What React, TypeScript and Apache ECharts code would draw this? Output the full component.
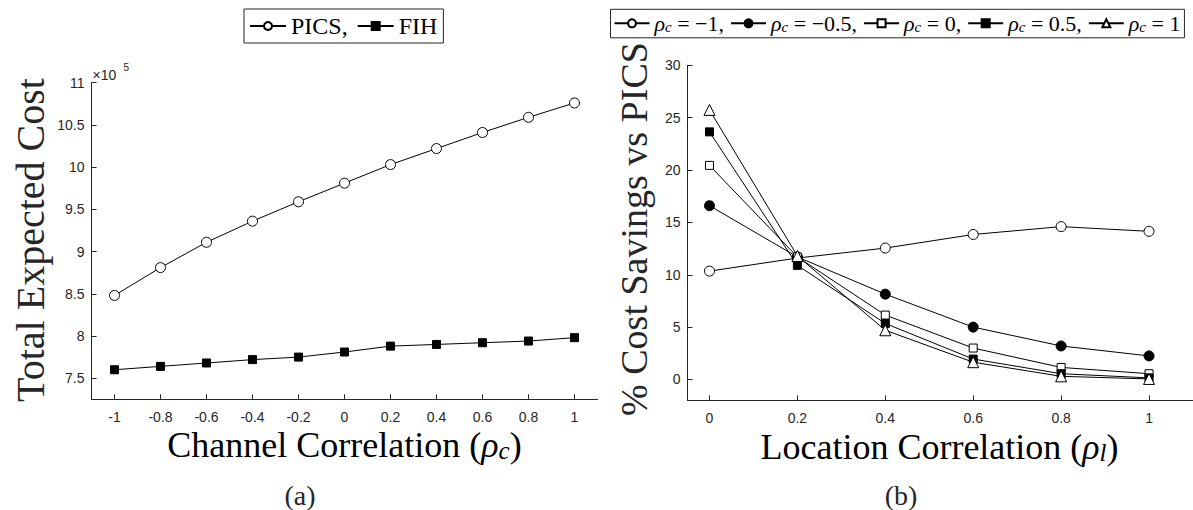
import React, { useEffect, useRef } from "react";
import * as echarts from "echarts";

// ---------- data ----------
const channelCorr = [-1, -0.8, -0.6, -0.4, -0.2, 0, 0.2, 0.4, 0.6, 0.8, 1];
const picsCost = [8.48, 8.81, 9.11, 9.36, 9.59, 9.81, 10.03, 10.22, 10.41, 10.59, 10.76];
const fihCost = [7.6, 7.64, 7.68, 7.72, 7.75, 7.81, 7.88, 7.9, 7.92, 7.94, 7.98];
const leftYTicks = [7.5, 8, 8.5, 9, 9.5, 10, 10.5, 11];

const locCorr = [0, 0.2, 0.4, 0.6, 0.8, 1];
const savRcM1 = [10.35, 11.6, 12.55, 13.85, 14.6, 14.15];
const savRcM05 = [16.6, 11.7, 8.15, 5.0, 3.2, 2.25];
const savRc0 = [20.45, 11.7, 6.15, 3.0, 1.15, 0.55];
const savRc05 = [23.65, 10.9, 5.35, 1.95, 0.55, 0.15];
const savRc1 = [25.75, 11.8, 4.7, 1.65, 0.3, 0.05];
const rightYTicks = [0, 5, 10, 15, 20, 25, 30];
const rhoLabels = ["\u22121", "\u22120.5", "0", "0.5", "1"];

const SERIF = '"Liberation Serif", "Times New Roman", serif';
const SANS = '"Liberation Sans", Arial, sans-serif';
const AX = "#262626";

function pairs(xs: number[], ys: number[]) {
  return xs.map((x, i) => [x, ys[i]]);
}

function lineSeries(name: string, xi: number, xs: number[], ys: number[], symbol: string, size: number, filled: boolean) {
  return {
    name,
    type: "line",
    xAxisIndex: xi,
    yAxisIndex: xi,
    data: pairs(xs, ys),
    symbol,
    symbolSize: size,
    showSymbol: true,
    silent: true,
    lineStyle: { color: "#000", width: 1 },
    itemStyle: { color: filled ? "#000" : "#fff", borderColor: "#000", borderWidth: 1 },
    emphasis: { disabled: true },
  };
}

function xAxisCfg(grid: number, min: number, max: number, ticks: number[]) {
  return {
    type: "value",
    gridIndex: grid,
    min,
    max,
    axisLine: { show: true, onZero: false, lineStyle: { color: AX, width: 1 } },
    axisTick: { show: true, inside: true, length: 5, customValues: ticks, lineStyle: { color: AX } },
    axisLabel: { customValues: ticks, color: AX, fontSize: 14, fontFamily: SANS, margin: 11 },
    splitLine: { show: false },
  };
}

function yAxisCfg(grid: number, min: number, max: number, ticks: number[]) {
  return {
    type: "value",
    gridIndex: grid,
    min,
    max,
    axisLine: { show: true, onZero: false, lineStyle: { color: AX, width: 1 } },
    axisTick: { show: true, inside: true, length: 5, customValues: ticks, lineStyle: { color: AX } },
    axisLabel: { customValues: ticks, color: AX, fontSize: 14, fontFamily: SANS, margin: 7 },
    splitLine: { show: false },
  };
}

const rightNames = ["rc_m1", "rc_m05", "rc_0", "rc_05", "rc_1"];

export default function App() {
  const ref = useRef<HTMLDivElement>(null);
  useEffect(() => {
    if (!ref.current) return;
    const chart = echarts.init(ref.current, null, { renderer: "svg" });
    const titleRich = {
      n: { fontFamily: SERIF, fontSize: 36, color: AX },
      i: { fontFamily: SERIF, fontSize: 36, fontStyle: "italic", color: AX },
      s: { fontFamily: SERIF, fontSize: 25, fontStyle: "italic", color: AX, verticalAlign: "bottom", lineHeight: 25 },
    };
    const option: any = {
      animation: false,
      backgroundColor: "#fff",
      grid: [
        { left: 91.5, top: 82.7, width: 506, height: 316.6 },
        { left: 687.5, top: 65.4, width: 505.5, height: 335 },
      ],
      xAxis: [xAxisCfg(0, -1.1, 1.1, channelCorr), xAxisCfg(1, -0.05, 1.1, locCorr)],
      yAxis: [yAxisCfg(0, 7.25, 11, leftYTicks), yAxisCfg(1, -2, 30, rightYTicks)],
      legend: [
        {
          data: ["PICS,", "FIH"],
          left: 244,
          top: 9,
          itemWidth: 36,
          itemHeight: 10,
          itemGap: 9,
          padding: [5, 6, 5, 5],
          borderColor: AX,
          borderWidth: 1,
          selectedMode: false,
          textStyle: { fontFamily: SERIF, fontSize: 24, color: "#000" },
        },
        {
          data: rightNames,
          left: 610.5,
          top: 9.3,
          itemWidth: 35,
          itemHeight: 10,
          itemGap: 6,
          padding: [3, 4, 3, 3],
          borderColor: AX,
          borderWidth: 1,
          backgroundColor: "#fff",
          selectedMode: false,
          formatter: (name: string) => {
            const k = rightNames.indexOf(name);
            const comma = k < rightNames.length - 1 ? "," : "";
            return `{r|\u03c1}{s|c}{t| = ${rhoLabels[k]}${comma}}`;
          },
          textStyle: {
            fontFamily: SERIF,
            fontSize: 22,
            color: "#000",
            rich: {
              r: { fontFamily: SERIF, fontSize: 22, fontStyle: "italic", color: "#000", lineHeight: 23 },
              s: { fontFamily: SERIF, fontSize: 15, fontStyle: "italic", color: "#000", verticalAlign: "bottom", lineHeight: 15 },
              t: { fontFamily: SERIF, fontSize: 22, color: "#000", lineHeight: 23 },
            },
          },
        },
      ],
      series: [
        lineSeries("PICS,", 0, channelCorr, picsCost, "circle", 10, false),
        lineSeries("FIH", 0, channelCorr, fihCost, "rect", 8, true),
        lineSeries("rc_m1", 1, locCorr, savRcM1, "circle", 10, false),
        lineSeries("rc_m05", 1, locCorr, savRcM05, "circle", 10, true),
        lineSeries("rc_0", 1, locCorr, savRc0, "rect", 8, false),
        lineSeries("rc_05", 1, locCorr, savRc05, "rect", 8, true),
        lineSeries("rc_1", 1, locCorr, savRc1, "triangle", 11, false),
      ],
      graphic: [
        {
          type: "text", x: 30, y: 240, rotation: Math.PI / 2, silent: true,
          style: { text: "Total Expected Cost", font: `40px ${SERIF}`, fill: AX, align: "center", verticalAlign: "middle" },
        },
        {
          type: "text", x: 633.5, y: 229, rotation: Math.PI / 2, silent: true,
          style: { text: "% Cost Savings vs PICS", font: `38px ${SERIF}`, fill: AX, align: "center", verticalAlign: "middle" },
        },
        {
          type: "text", x: 344.5, y: 445, silent: true,
          style: { text: "{n|Channel Correlation (}{i|\u03c1}{s|c}{n|)}", rich: titleRich, align: "center", verticalAlign: "middle" },
        },
        {
          type: "text", x: 939.5, y: 447, silent: true,
          style: { text: "{n|Location Correlation (}{i|\u03c1}{s|l}{n|)}", rich: titleRich, align: "center", verticalAlign: "middle" },
        },
        {
          type: "text", x: 92.5, y: 75, silent: true,
          style: { text: "\u00d710", font: `14px ${SANS}`, fill: AX, align: "left", verticalAlign: "middle" },
        },
        {
          type: "text", x: 123.5, y: 67, silent: true,
          style: { text: "5", font: `10px ${SANS}`, fill: AX, align: "left", verticalAlign: "middle" },
        },
        {
          type: "text", x: 300, y: 495, silent: true,
          style: { text: "(a)", font: `28px ${SERIF}`, fill: AX, align: "center", verticalAlign: "middle" },
        },
        {
          type: "text", x: 901, y: 495, silent: true,
          style: { text: "(b)", font: `28px ${SERIF}`, fill: AX, align: "center", verticalAlign: "middle" },
        },
      ],
    };
    chart.setOption(option);
    return () => chart.dispose();
  }, []);
  return (
    <div
      ref={ref}
      style={{ position: "absolute", left: 0, top: 0, width: 1193, height: 510 }}
    />
  );
}
